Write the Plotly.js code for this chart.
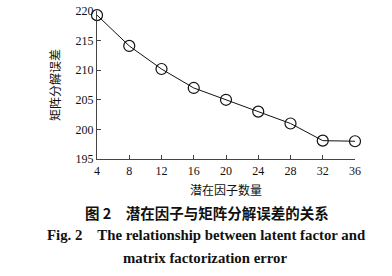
<!DOCTYPE html>
<html>
<head>
<meta charset="utf-8">
<script src="https://cdn.plot.ly/plotly-3.0.1.min.js"></script>
<style>html,body{margin:0;padding:0;background:#fff;}#chart{width:392px;height:276px;}</style>
</head>
<body>
<div id="chart"></div>
<script>
const latentFactors = [4, 8, 12, 16, 20, 24, 28, 32, 36];
const factorizationError = [219.3, 214.1, 210.2, 207.0, 205.0, 203.0, 201.0, 198.1, 198.0];
const xTicks = [4, 8, 12, 16, 20, 24, 28, 32, 36];
const yTicks = [195, 200, 205, 210, 215, 220];
const xTitle = '潜在因子数量';
const yTitle = '矩阵分解误差';
const captionCn = '图 2　潜在因子与矩阵分解误差的关系';
const captionEn1 = 'Fig. 2　The relationship between latent factor and';
const captionEn2 = 'matrix factorization error';

const serif = '"Liberation Serif", "Times New Roman", serif';
const cjk = '"Noto Sans CJK SC", sans-serif';

const trace = {
  x: latentFactors,
  y: factorizationError,
  type: 'scatter',
  mode: 'lines+markers',
  cliponaxis: false,
  line: {color: '#111', width: 1},
  marker: {symbol: 'circle-open', size: 11, color: '#111', line: {width: 1.2, color: '#111'}},
  showlegend: false,
  hoverinfo: 'x+y'
};

const axisCommon = {
  showgrid: false,
  zeroline: false,
  showline: true,
  linecolor: '#444',
  linewidth: 1.2,
  ticks: 'inside',
  ticklen: 4,
  tickwidth: 1,
  tickcolor: '#444',
  tickfont: {family: serif, size: 12, color: '#111'},
  automargin: false,
  mirror: false
};

const layout = {
  width: 392,
  height: 276,
  margin: {l: 97, r: 37, t: 10.5, b: 117},
  paper_bgcolor: '#fff',
  plot_bgcolor: '#fff',
  xaxis: Object.assign({}, axisCommon, {
    range: [4, 36],
    tickvals: xTicks,
    ticktext: xTicks.map(String),
    title: {text: xTitle, font: {family: cjk, size: 12, color: '#111'}, standoff: 10}
  }),
  yaxis: Object.assign({}, axisCommon, {
    range: [195, 220],
    tickvals: yTicks,
    ticktext: yTicks.map(String),
    title: {text: yTitle, font: {family: cjk, size: 12, color: '#111'}, standoff: 12}
  }),
  annotations: [
    {text: '<b>' + captionCn + '</b>', xref: 'paper', yref: 'paper', x: 0.428, y: -0.364,
     xanchor: 'center', yanchor: 'middle', showarrow: false,
     font: {family: cjk, size: 14.5, color: '#111'}},
    {text: '<b>' + captionEn1 + '</b>', xref: 'paper', yref: 'paper', x: 0.4225, y: -0.512,
     xanchor: 'center', yanchor: 'middle', showarrow: false,
     font: {family: serif, size: 14.8, color: '#111'}},
    {text: '<b>' + captionEn2 + '</b>', xref: 'paper', yref: 'paper', x: 0.419, y: -0.667,
     xanchor: 'center', yanchor: 'middle', showarrow: false,
     font: {family: serif, size: 14.8, color: '#111'}}
  ]
};

Plotly.newPlot('chart', [trace], layout, {displayModeBar: false, staticPlot: true});
</script>
</body>
</html>
